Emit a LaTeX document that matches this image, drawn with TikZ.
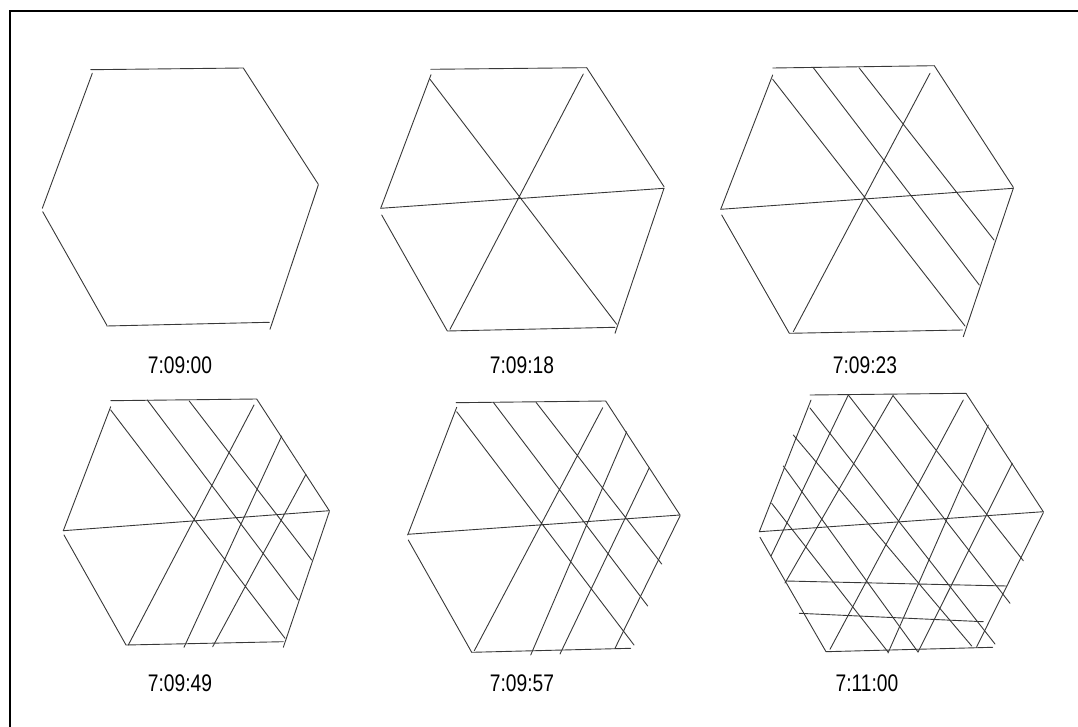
\documentclass[tikz,border=0pt]{standalone}
\usepackage{fontspec}
\newfontfamily\stampfont[FakeStretch=0.8]{Liberation Sans}
\usepackage{tikz}

\begin{document}
\begin{tikzpicture}[
        x=1pt, y=-1pt,
        stroke/.style={draw=black!78, line width=0.9pt, line cap=round},
        frame/.style={draw=black, line width=2.5pt},
        stamp/.style={inner sep=0pt, font=\stampfont\fontsize{24}{28}\selectfont}
    ]
        \useasboundingbox (0,0) rectangle (1078,727);

        % Cadre (haut et gauche)
        \draw[frame] (10,727) -- (10,11) -- (1078,11);

        % Hexagone 1
        \draw[stroke] (90.7,69.7) -- (243.3,68)  (92.3,73.3) -- (42.3,208.3)
                      (243.3,68) -- (318.3,184.3)  (318.3,185) -- (270,329.3)
                      (106.7,326) -- (269.3,322.3)  (42.7,211.7) -- (106.7,325);

        % Hexagone 2
        \draw[stroke] (430.7,69.3) -- (586.7,67.7)  (431,74.7) -- (380.7,208.3)
                      (586.7,67.7) -- (664,186.7)  (664,188.3) -- (615,333.3)
                      (447.3,331) -- (615,327.3)  (381.7,215) -- (447.3,331);
        \draw[stroke] (380.7,208.3) -- (664,188.3)
                      (430,79.3) -- (616.7,324.3)  (583.3,74) -- (450,329.3);

        % Hexagone 3
        \draw[stroke] (772.7,68) -- (934.3,65.7)  (772.7,75) -- (720.7,209.3)
                      (934.3,65.7) -- (1013.3,187.3)  (1013.3,188.3) -- (963.3,336.7)
                      (789.3,333.3) -- (962.3,330)  (721.7,215) -- (789.3,333.3);
        \draw[stroke] (720.7,209.3) -- (1013.3,188.3)
                      (772.7,79.3) -- (965,326)  (930,73.3) -- (793.3,331.7)
                      (813.3,67.7) -- (979.3,285)  (859,67.7) -- (994,240);

        % Hexagone 4
        \draw[stroke] (110.7,400.7) -- (256.7,399)  (110.7,406.7) -- (63.3,530.7)
                      (256.7,399) -- (329.3,510.7)  (329.3,511.7) -- (283.3,647.3)
                      (126,645) -- (283.3,641.7)  (64,535) -- (126,645);
        \draw[stroke] (63.3,530.7) -- (329.3,510.7)
                      (110.7,410) -- (285,638.3)  (254,405) -- (128.3,645)
                      (147.3,400) -- (298.3,600)  (189,400.7) -- (311.7,560)
                      (281.7,436) -- (184,647.3)  (306,474.3) -- (212.7,646.7);

        % Hexagone 5
        \draw[stroke] (456,402.7) -- (605.7,401)  (456.7,407.3) -- (407.7,535)
                      (605.7,401) -- (680,515)  (680,516) -- (615,648.3)
                      (471.7,652.3) -- (630.7,648.3)  (408.3,540) -- (471.7,652.3);
        \draw[stroke] (407.7,534.3) -- (680,515)
                      (456.7,411.7) -- (634,645)  (602.7,407.7) -- (474.3,650.7)
                      (493.3,402.3) -- (647.7,606)  (536,402.3) -- (661.7,564)
                      (626.7,431.7) -- (530.7,655)  (649.3,467.7) -- (560,654);

        % Hexagone 6
        \draw[stroke] (810,395) -- (966,393.3)  (811,400) -- (759.3,531.7)
                      (966,393.3) -- (1043.3,511.7)  (1043.3,512.7) -- (976.7,646.7)
                      (826,651.7) -- (992.7,647.3)  (760,537.3) -- (826,651.7);
        \draw[stroke] (759.3,531.7) -- (1043.3,511.7)
                      (786,581) -- (1006.7,586)  (799.3,613.3) -- (983.3,621.7);
        \draw[stroke] (810,408) -- (995,644)  (848.3,395) -- (1010,603.3)
                      (893.3,396) -- (1023.3,560.7)  (793.3,435) -- (971.7,646)
                      (783.3,466) -- (918,652)  (771.7,503.3) -- (888,652);
        \draw[stroke] (963.3,400) -- (830,649.3)  (848.3,395) -- (771,556)
                      (893.3,395) -- (785,583)  (888,653) -- (988.3,425)
                      (918,652) -- (1012.3,463.3);

        % Heures
        \node[stamp] (t1) at (180,365) {7:09:00};
        \node[stamp] (t2) at (522,365) {7:09:18};
        \node[stamp] (t3) at (865,365) {7:09:23};
        \node[stamp] (t4) at (180,683) {7:09:49};
        \node[stamp] (t5) at (522,683) {7:09:57};
        \node[stamp] (t6) at (867,683) {7:11:00};
    \end{tikzpicture}
\end{document}
